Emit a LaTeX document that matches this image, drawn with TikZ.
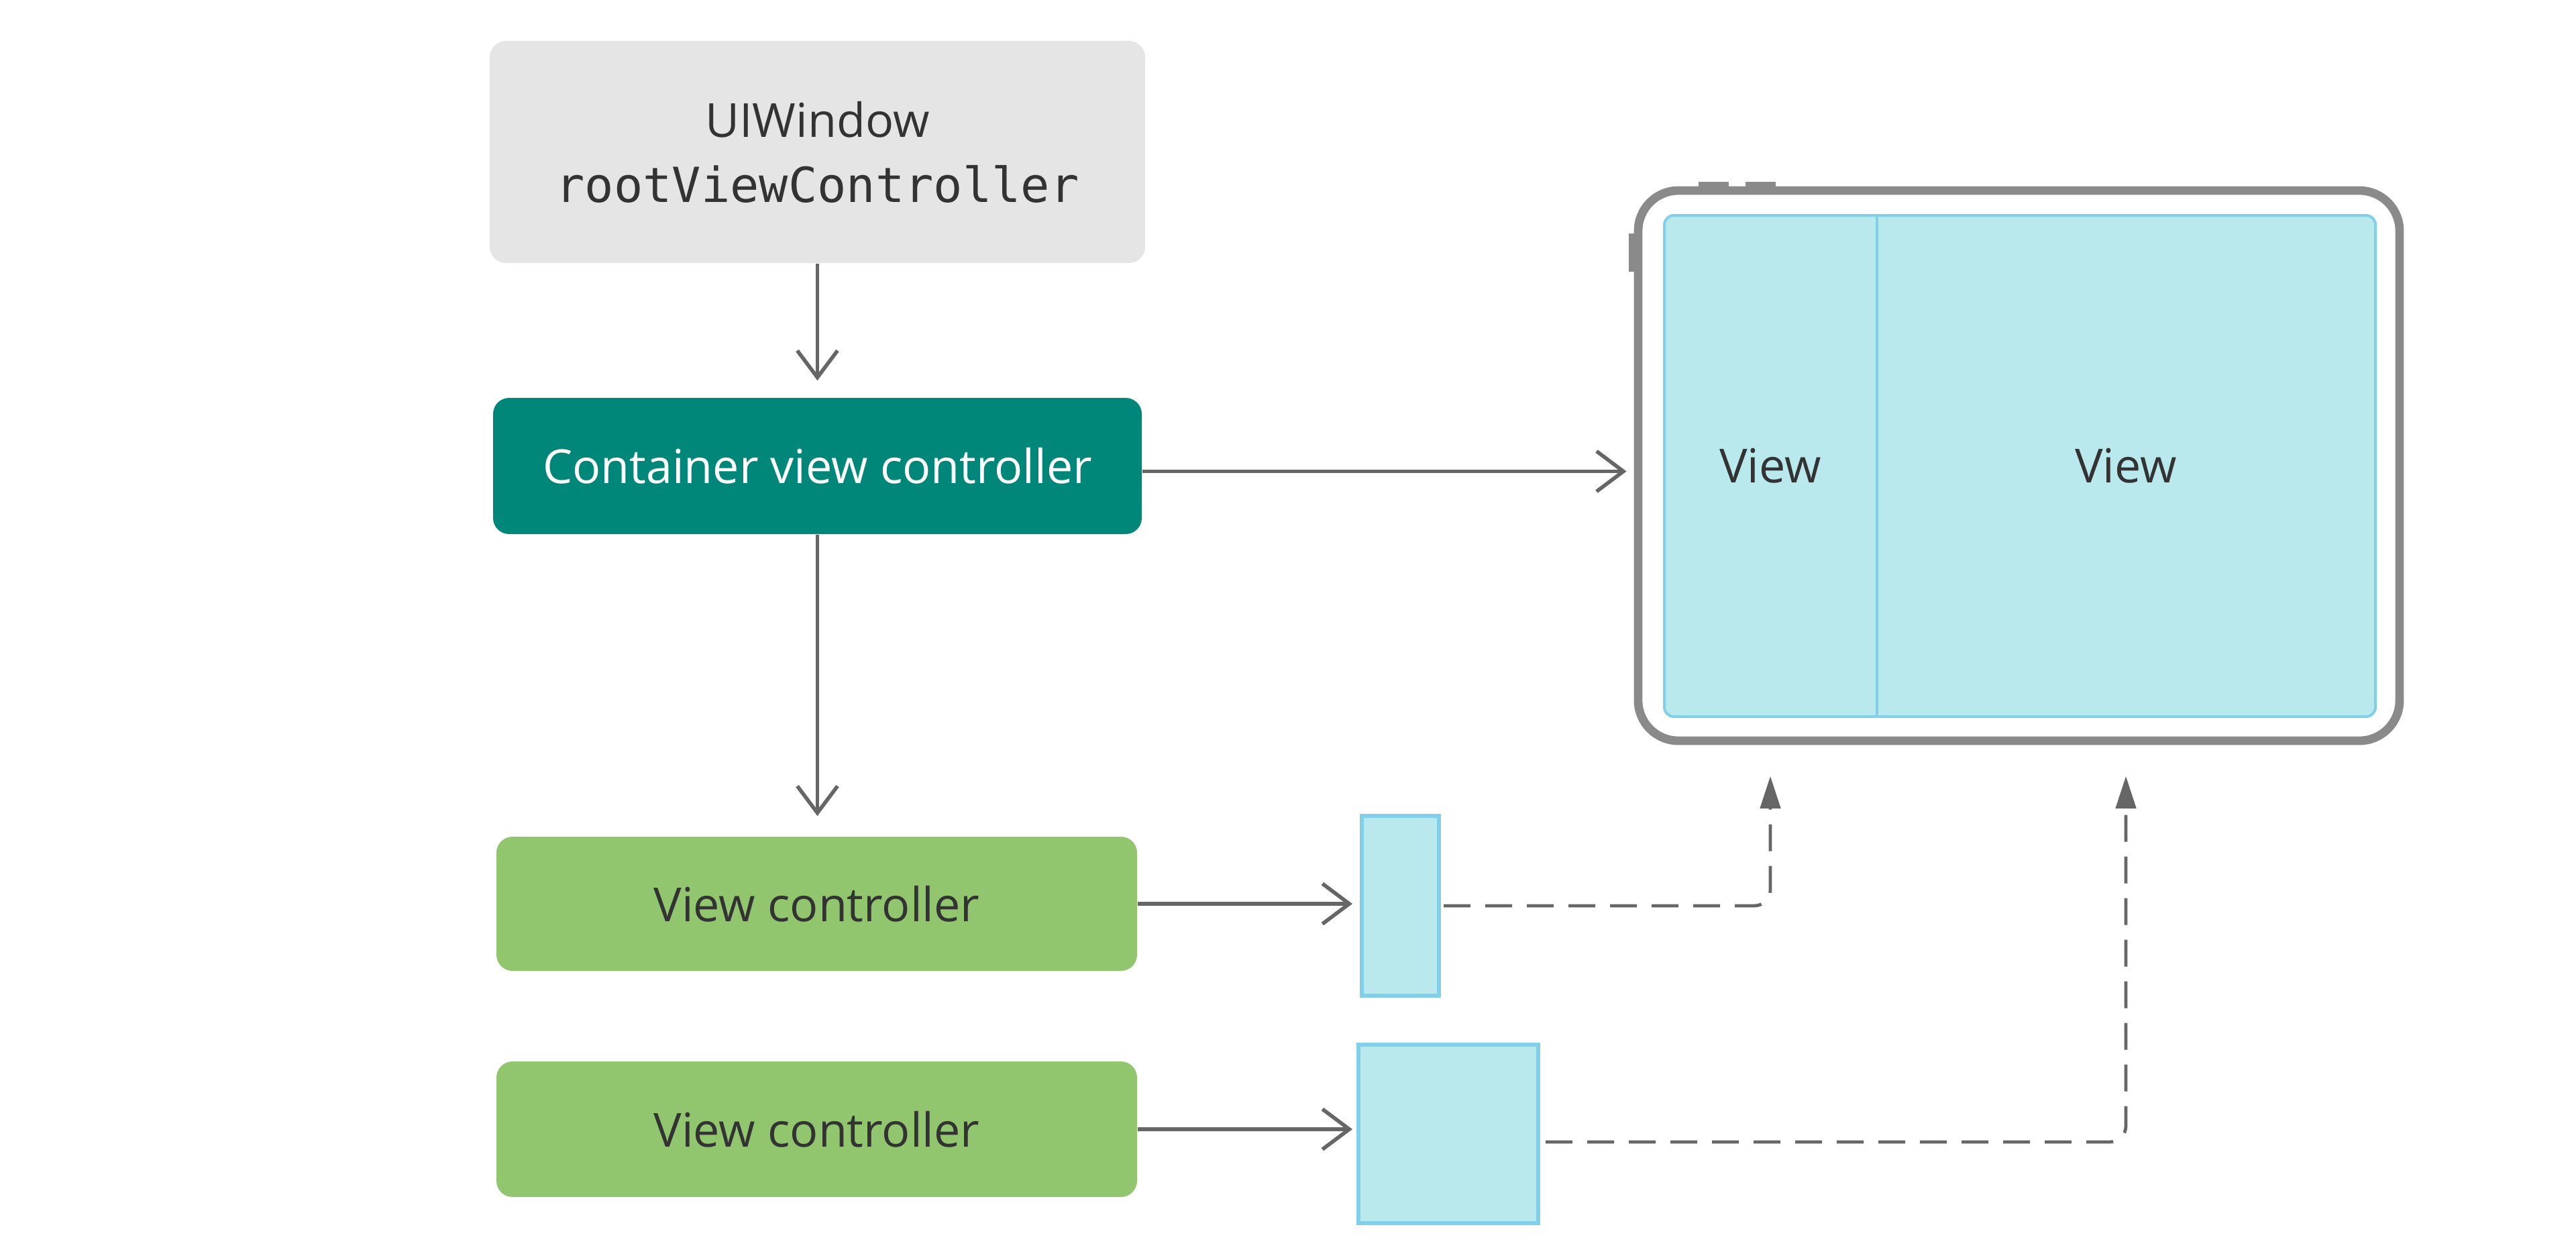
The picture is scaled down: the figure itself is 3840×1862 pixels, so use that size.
\documentclass[tikz,border=0pt]{standalone}
\usepackage{fontspec}
\setmainfont{Open Sans}
\setmonofont{DejaVu Sans Mono}
\usetikzlibrary{arrows.meta}
\definecolor{winfill}{HTML}{E5E5E5}
\definecolor{teal}{HTML}{00877A}
\definecolor{vcgreen}{HTML}{91C66F}
\definecolor{txt}{HTML}{333333}
\definecolor{arr}{HTML}{666666}
\definecolor{devgray}{HTML}{8A8A8A}
\definecolor{viewfill}{HTML}{B9E9EC}
\definecolor{viewline}{HTML}{82CFEA}
\begin{document}
\begin{tikzpicture}[x=0.25pt,y=-0.25pt,
  box/.style={rectangle, rounded corners=6pt, inner sep=0pt, text=txt,
    font=\fontsize{17.5}{24.25}\selectfont},
  solidarrow/.style={draw=arr, line width=1.4pt, -{Straight Barb[length=10pt,width=15pt]}},
  dasharrow/.style={draw=arr, line width=1.2pt, dash pattern=on 10pt off 5.5pt,
    rounded corners=6pt, -{Triangle[length=12pt,width=7.5pt]}},
  viewbox/.style={rectangle, fill=viewfill, draw=viewline, line width=1.5pt, inner sep=0pt},
  viewlabel/.style={rectangle, inner sep=0pt, text=txt, font=\fontsize{17.5}{21}\selectfont},
]
\useasboundingbox (0,0) rectangle (3840,1862);

% left column boxes
\node[box, fill=winfill, minimum width=244.25pt, minimum height=82.75pt, align=center]
  (win) at (1218.5,226.5) {UIWindow\\\texttt{\fontsize{18}{24.25}\selectfont rootViewController}};
\node[box, fill=teal, text=white, minimum width=241.75pt, minimum height=50.75pt]
  (cvc) at (1218.5,694.5) {Container view controller};
\node[box, fill=vcgreen, minimum width=238.75pt, minimum height=50pt]
  (vc1) at (1217.5,1347) {View controller};
\node[box, fill=vcgreen, minimum width=238.75pt, minimum height=50.5pt]
  (vc2) at (1217.5,1683) {View controller};

% small views
\node[viewbox, minimum width=28.75pt, minimum height=67pt] (v1) at (2087.5,1350) {};
\node[viewbox, minimum width=67pt, minimum height=66.5pt] (v2) at (2159,1690) {};

% device
\fill[devgray] (2532,271) rectangle (2577,285);
\fill[devgray] (2602,271) rectangle (2647,285);
\fill[devgray] (2428,348) rectangle (2440,405);
\node[draw=devgray, fill=white, line width=3.2pt, rounded corners=15pt, minimum width=283.75pt,
  minimum height=205pt, inner sep=0pt] (dev) at (3009.5,694) {};
\node[fill=viewfill, draw=viewline, line width=1pt, rounded corners=3.5pt, minimum width=265pt,
  minimum height=186.75pt, inner sep=0pt] (scr) at (3011,694.5) {};
\node[viewlabel, minimum width=79pt, minimum height=186.75pt] (lv) at (2639,694.5) {View};
\node[viewlabel, minimum width=186pt, minimum height=186.75pt] (rv) at (3169,694.5) {View};
\draw[viewline, line width=1pt] (lv.north east) -- (lv.south east);

% connectors
\draw[solidarrow, shorten >=6.25pt] (win.south) -- (win.south |- cvc.north);
\draw[solidarrow, shorten >=2.75pt] ([yshift=-2pt]cvc.east) -- ([yshift=-2pt]cvc.east -| dev.west);
\draw[solidarrow, shorten >=7.5pt] (cvc.south) -- (cvc.south |- vc1.north);
\draw[solidarrow, shorten >=2.75pt] (vc1.east) -- (vc1.east -| v1.west);
\draw[solidarrow, shorten >=1.5pt] (vc2.east) -- (vc2.east -| v2.west);
\draw[dasharrow, shorten <=1pt, shorten >=22pt] (v1.east) -| (lv.south);
\draw[dasharrow, shorten <=2pt, shorten >=22pt] ([yshift=-3pt]v2.east) -| (rv.south);
\end{tikzpicture}
\end{document}
